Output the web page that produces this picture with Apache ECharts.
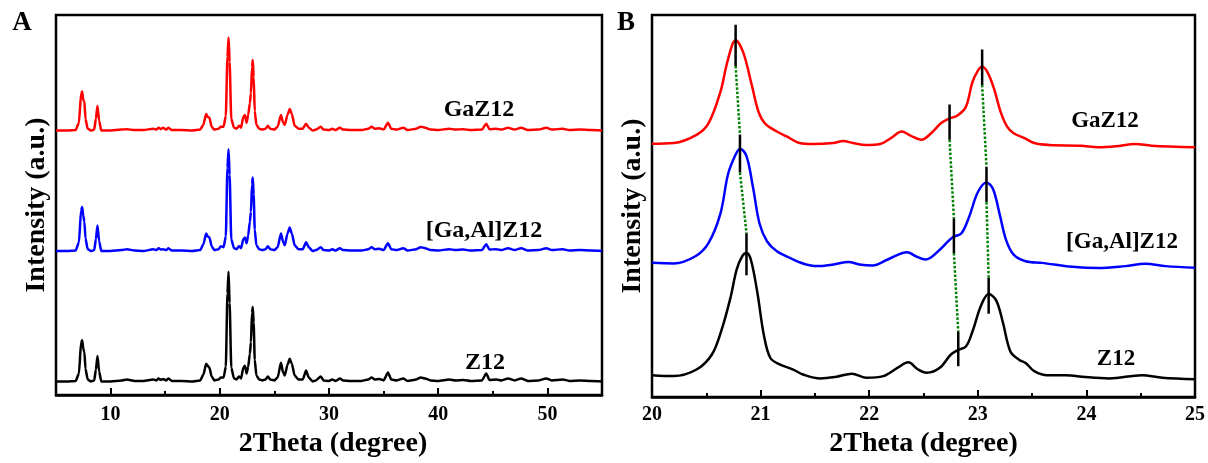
<!DOCTYPE html>
<html>
<head>
<meta charset="utf-8">
<script src="https://cdn.jsdelivr.net/npm/echarts@6/dist/echarts.min.js"></script>
<style>html,body{margin:0;padding:0;background:#fff;}#c{width:1208px;height:463px;}</style>
</head>
<body>
<div id="c"></div>
<script>
// ---------- Panel A data (2Theta, intensity above each pattern's baseline) ----------
const aX = [
  5.0, 6.0, 6.8, 7.1, 7.3, 7.4, 7.5, 7.6, 7.7, 7.9,
  8.2, 8.5, 8.65, 8.8, 8.95, 9.15, 10.0, 11.0, 11.5, 12.2,
  13.0, 13.9, 14.2, 14.4, 14.6, 14.8, 15.1, 15.3, 15.6, 16.5,
  17.5, 18.2, 18.5, 18.75, 18.9, 19.05, 19.25, 19.5, 19.9, 20.1,
  20.35, 20.55, 20.7, 20.8, 20.9, 21.05, 21.3, 21.55, 21.75, 21.95,
  22.15, 22.3, 22.45, 22.6, 22.75, 22.85, 22.95, 23.02, 23.1, 23.2,
  23.35, 23.6, 23.9, 24.2, 24.4, 24.6, 25.0, 25.3, 25.6, 25.8,
  25.95, 26.2, 26.4, 26.6, 26.85, 27.2, 27.6, 27.9, 28.15, 28.5,
  28.8, 29.25, 29.5, 30.0, 30.3, 30.6, 31.0, 31.3, 32.0, 33.0,
  33.6, 33.9, 34.2, 34.6, 35.0, 35.4, 35.7, 36.2, 36.8, 37.2,
  38.0, 38.4, 38.8, 39.3, 40.0, 41.0, 41.6, 42.3, 43.0, 44.0,
  44.4, 44.7, 45.3, 45.8, 46.4, 47.0, 47.6, 48.2, 49.2, 49.9,
  50.4, 51.4, 52.0, 53.0, 54.0, 55.0
];
const aGaZ12 = [
  0, 0, 0.5, 8, 38, 40, 31, 30, 12, 2,
  0, 1, 12, 25, 10, 0, 0, 1, 1.5, 0.5,
  0.5, 2, 1, 3, 1.5, 3, 1, 3, 0.5, 0.5,
  0, 1, 6, 17, 14, 13, 4, 1, 2, 4,
  4, 15, 75, 95, 70, 12, 3, 2, 5, 3,
  14, 16, 8, 16, 28, 38, 65, 72, 55, 20,
  6, 2, 1, 2, 5, 2, 1, 4, 16, 8,
  6, 16, 22, 17, 5, 2, 2, 7, 3, 0,
  1, 4, 1, 0.5, 2, 0.5, 3, 1, 0.5, 0.5,
  2, 4, 2, 2.5, 1, 8, 2, 1, 3, 0.5,
  2, 4, 3, 1, 0.5, 2, 1, 1.5, 0.5, 1,
  7, 1.5, 2, 1, 3, 1, 3, 0.5, 1, 3,
  1, 2, 0.5, 1, 0.5, 0
];
const aGaAlZ12 = [
  0, 0, 0.5, 9, 42, 45, 36, 30, 13, 2,
  0, 1, 12, 26, 10, 0, 0, 1, 2, 0.5,
  0, 2, 1, 3, 1.5, 2, 1, 3, 0.5, 0.5,
  0, 1, 7, 18, 15, 14, 5, 1, 2, 5,
  4, 15, 85, 104, 78, 12, 3, 2, 5, 3,
  12, 14, 8, 16, 30, 40, 68, 75, 58, 22,
  6, 2, 1, 2, 5, 2, 1, 4, 18, 9,
  6, 18, 24, 18, 6, 2, 2, 9, 4, 0,
  1, 4, 1, 0.5, 2, 0.5, 3, 1, 0.5, 0.5,
  2, 4, 2, 2.5, 1, 8, 2, 1, 3, 0.5,
  2, 4, 3, 1, 0.5, 2, 1, 1.5, 0.5, 1,
  7, 1.5, 2, 1, 3, 1, 3, 0.5, 1, 3,
  1, 2, 0.5, 1, 0.5, 0
];
const aZ12 = [
  0, 0, 0.5, 8, 40, 42, 33, 30, 13, 2,
  0, 1, 12, 26, 10, 0, 0, 1, 2, 0.5,
  0.5, 2, 1, 3, 1.5, 2.5, 1, 3, 0.5, 0.5,
  0, 1, 7, 18, 16, 14, 5, 1, 2, 4,
  4, 15, 90, 112, 80, 14, 3, 2, 5, 3,
  14, 16, 8, 15, 28, 40, 70, 76, 60, 22,
  6, 2, 1, 2, 5, 2, 1, 4, 19, 9,
  6, 17, 23, 18, 6, 2, 2, 11, 4, 0,
  1, 5, 1, 0.5, 2, 0.5, 3, 1, 0.5, 0.5,
  2, 4, 2, 2.5, 1, 9, 2, 1, 3, 0.5,
  2, 4, 3, 1, 0.5, 2, 1, 1.5, 0.5, 1,
  8, 1.5, 2, 1, 3, 1, 3, 0.5, 1, 3,
  1, 2, 0.5, 1, 0.5, 0
];

// ---------- Panel B data (zoom 20-25 degrees) ----------
const bGaZ12X = [20.0, 20.2, 20.41, 20.52, 20.63, 20.70, 20.77, 20.84, 20.92, 20.98,
  21.04, 21.15, 21.24, 21.36, 21.48, 21.67, 21.76, 21.85, 21.97, 22.10,
  22.20, 22.30, 22.38, 22.48, 22.58, 22.66, 22.74, 22.81, 22.89, 22.95,
  23.00, 23.04, 23.09, 23.15, 23.21, 23.27, 23.33, 23.43, 23.52, 23.66,
  23.95, 24.11, 24.27, 24.45, 24.60, 25.0];
const bGaZ12Y = [1.3, 2, 10.3, 22, 54, 87, 106.3, 94, 60.3, 34,
  22, 13.7, 8.7, 2, 1, 2, 4, 2, 0, 1,
  7, 13.7, 9.5, 5.3, 13, 22, 27, 29.7, 38.7, 63.7,
  75.3, 79.7, 73.7, 57, 33.7, 18.7, 12, 7, 2, 0,
  -0.7, -2.3, -1.3, 1, -0.7, -2.3];

const bGaAlZ12X = [20.0, 20.2, 20.40, 20.52, 20.63, 20.70, 20.77, 20.81, 20.87, 20.93,
  20.99, 21.06, 21.15, 21.27, 21.39, 21.52, 21.67, 21.81, 21.91, 22.03,
  22.17, 22.35, 22.43, 22.52, 22.65, 22.74, 22.78, 22.85, 22.92, 23.00,
  23.08, 23.14, 23.20, 23.26, 23.33, 23.44, 23.59, 23.87, 24.11, 24.36,
  24.54, 24.73, 25.0];
const bGaAlZ12Y = [2.3, 1.7, 9, 22.3, 52.3, 92.3, 112.3, 118.3, 110.7, 79,
  42.3, 24, 14, 7.3, 1.7, -1, 0.7, 3.3, 0.7, -0.3,
  5.7, 13.2, 9, 5.7, 15.7, 25.7, 29, 32.3, 49, 74,
  84, 77.3, 52.3, 25.7, 10.7, 4, 2.3, -1.7, -3, -1,
  1.3, -1, -2.7];

const bZ12X = [20.0, 20.2, 20.41, 20.55, 20.64, 20.72, 20.78, 20.83, 20.87, 20.91,
  20.97, 21.03, 21.09, 21.18, 21.30, 21.39, 21.55, 21.70, 21.84, 21.97,
  22.13, 22.26, 22.36, 22.45, 22.53, 22.65, 22.75, 22.82, 22.89, 22.95,
  23.03, 23.10, 23.17, 23.23, 23.30, 23.38, 23.44, 23.52, 23.63, 23.81,
  23.99, 24.21, 24.51, 24.70, 25.0];
const bZ12Y = [1.3, 0.3, 7, 22, 47, 78.7, 108.7, 122, 125.3, 118.7,
  85.3, 42, 18.7, 12, 7, 2, -2, -0.3, 2.7, -1.3,
  0.3, 8.7, 14.3, 7, 3.7, 8.7, 22, 27, 30.3, 45.3,
  72, 83.7, 77, 55.3, 25.3, 17, 13.7, 5.3, 1.3, 1.3,
  -0.7, -2, 1.3, -1.3, -3];

// peak marker positions and their top/bottom extents (intensity above baseline)
const mkGaZ12X = [20.77, 22.74, 23.04], mkGaZ12Top = [122, 41, 97], mkGaZ12Bot = [80.3, 5.3, 61];
const mkGaAlZ12X = [20.81, 22.78, 23.08], mkGaAlZ12Top = [132.3, 47.3, 100], mkGaAlZ12Bot = [94, 12.3, 64];
const mkZ12X = [20.87, 22.82, 23.10], mkZ12Top = [145.3, 45.3, 100.3], mkZ12Bot = [102.7, 10.3, 63.7];

const names = ['GaZ12', '[Ga,Al]Z12', 'Z12'];
const colors = ['#ff0000', '#0000ff', '#000000'];
const offA = [270, 147, 14];   // vertical stacking offsets, panel A
const offB = [256, 134, 21];   // vertical stacking offsets, panel B

const FONT = "'Times New Roman', 'Liberation Serif', serif";
const series = [];

[aGaZ12, aGaAlZ12, aZ12].forEach((arr, s) => {
  series.push({
    type: 'line', xAxisIndex: 0, yAxisIndex: 0, name: names[s],
    data: aX.map((x, i) => [x, arr[i] + offA[s]]),
    symbol: 'none', smooth: 0.2, smoothMonotone: 'x',
    lineStyle: { color: colors[s], width: 2.5 }, z: 3
  });
});

[[bGaZ12X, bGaZ12Y], [bGaAlZ12X, bGaAlZ12Y], [bZ12X, bZ12Y]].forEach((p, s) => {
  series.push({
    type: 'line', xAxisIndex: 2, yAxisIndex: 1, name: names[s] + ' B',
    data: p[0].map((x, i) => [x, p[1][i] + offB[s]]),
    symbol: 'none', smooth: 0.35,
    lineStyle: { color: colors[s], width: 2.5 }, z: 3
  });
});

const mk = [
  [mkGaZ12X, mkGaZ12Top, mkGaZ12Bot],
  [mkGaAlZ12X, mkGaAlZ12Top, mkGaAlZ12Bot],
  [mkZ12X, mkZ12Top, mkZ12Bot]
];
mk.forEach((m, s) => {
  m[0].forEach((x, j) => {
    series.push({
      type: 'line', xAxisIndex: 2, yAxisIndex: 1, symbol: 'none', silent: true,
      data: [[x, m[1][j] + offB[s]], [x, m[2][j] + offB[s]]],
      lineStyle: { color: '#000', width: 2.5 }, z: 5
    });
  });
});
for (let s = 0; s < 2; s++) {
  mk[s][0].forEach((x, j) => {
    series.push({
      type: 'line', xAxisIndex: 2, yAxisIndex: 1, symbol: 'none', silent: true,
      data: [[x, mk[s][2][j] + offB[s]], [mk[s + 1][0][j], mk[s + 1][1][j] + offB[s + 1]]],
      lineStyle: { color: '#008000', width: 2.5, type: [2.5, 1.8] }, z: 4
    });
  });
}

const labelStyle = { fontFamily: FONT, fontWeight: 'bold', color: '#000' };
const xName = '2Theta (degree)';
const yName = 'Intensity (a.u.)';

const option = {
  animation: false,
  backgroundColor: '#fff',
  grid: [
    { left: 56, top: 15, width: 546, height: 388, show: true, borderColor: '#000', borderWidth: 2.5, backgroundColor: 'transparent' },
    { left: 652, top: 15, width: 544, height: 388, show: true, borderColor: '#000', borderWidth: 2.5, backgroundColor: 'transparent' }
  ],
  xAxis: [
    {
      gridIndex: 0, type: 'value', min: 5, max: 55, splitNumber: 5, position: 'bottom',
      axisLine: { show: true, lineStyle: { color: '#000', width: 2.5 } },
      axisTick: { show: true, inside: true, length: 7, lineStyle: { color: '#000', width: 2 } },
      axisLabel: Object.assign({ fontSize: 20, margin: 10, formatter: v => (v % 10 === 0 ? String(v) : '') }, labelStyle),
      splitLine: { show: false },
      name: xName, nameLocation: 'middle', nameGap: 31,
      nameTextStyle: Object.assign({ fontSize: 28, padding: [0, 0, 0, 8] }, labelStyle)
    },
    {
      gridIndex: 0, type: 'value', min: 5, max: 55, interval: 10, position: 'bottom',
      axisLine: { show: false },
      axisTick: { show: true, inside: true, length: 4, lineStyle: { color: '#000', width: 2 } },
      axisLabel: { show: false }, splitLine: { show: false }
    },
    {
      gridIndex: 1, type: 'value', min: 20, max: 25, interval: 1, position: 'bottom',
      axisLine: { show: true, lineStyle: { color: '#000', width: 2.5 } },
      axisTick: { show: true, inside: true, length: 7, lineStyle: { color: '#000', width: 2 } },
      minorTick: { show: true, splitNumber: 2, length: 4, lineStyle: { color: '#000', width: 2 } },
      axisLabel: Object.assign({ fontSize: 20, margin: 8 }, labelStyle),
      splitLine: { show: false }, minorSplitLine: { show: false },
      name: xName, nameLocation: 'middle', nameGap: 31,
      nameTextStyle: Object.assign({ fontSize: 28 }, labelStyle)
    }
  ],
  yAxis: [0, 1].map(g => ({
    gridIndex: g, type: 'value', min: 0, max: 388,
    axisLine: { show: false }, axisTick: { show: false }, axisLabel: { show: false }, splitLine: { show: false },
    name: yName, nameLocation: 'middle', nameRotate: 90, nameGap: 5,
    nameTextStyle: Object.assign({ fontSize: 28 }, labelStyle)
  })),
  graphic: [
    { type: 'text', x: 22, y: 23, style: { text: 'A', font: 'bold 27px ' + FONT, fill: '#000', align: 'center', verticalAlign: 'middle' } },
    { type: 'text', x: 626, y: 23, style: { text: 'B', font: 'bold 27px ' + FONT, fill: '#000', align: 'center', verticalAlign: 'middle' } },
    { type: 'text', x: 479, y: 110, style: { text: names[0], font: 'bold 24px ' + FONT, fill: '#000', align: 'center', verticalAlign: 'middle' } },
    { type: 'text', x: 484, y: 231, style: { text: names[1], font: 'bold 24px ' + FONT, fill: '#000', align: 'center', verticalAlign: 'middle' } },
    { type: 'text', x: 485, y: 363, style: { text: names[2], font: 'bold 24px ' + FONT, fill: '#000', align: 'center', verticalAlign: 'middle' } },
    { type: 'text', x: 1105, y: 121, style: { text: names[0], font: 'bold 23px ' + FONT, fill: '#000', align: 'center', verticalAlign: 'middle' } },
    { type: 'text', x: 1122, y: 242, style: { text: names[1], font: 'bold 23px ' + FONT, fill: '#000', align: 'center', verticalAlign: 'middle' } },
    { type: 'text', x: 1116, y: 359, style: { text: names[2], font: 'bold 23px ' + FONT, fill: '#000', align: 'center', verticalAlign: 'middle' } }
  ],
  series: series
};

const chart = echarts.init(document.getElementById('c'), null, { renderer: 'canvas' });
chart.setOption(option);
</script>
</body>
</html>
